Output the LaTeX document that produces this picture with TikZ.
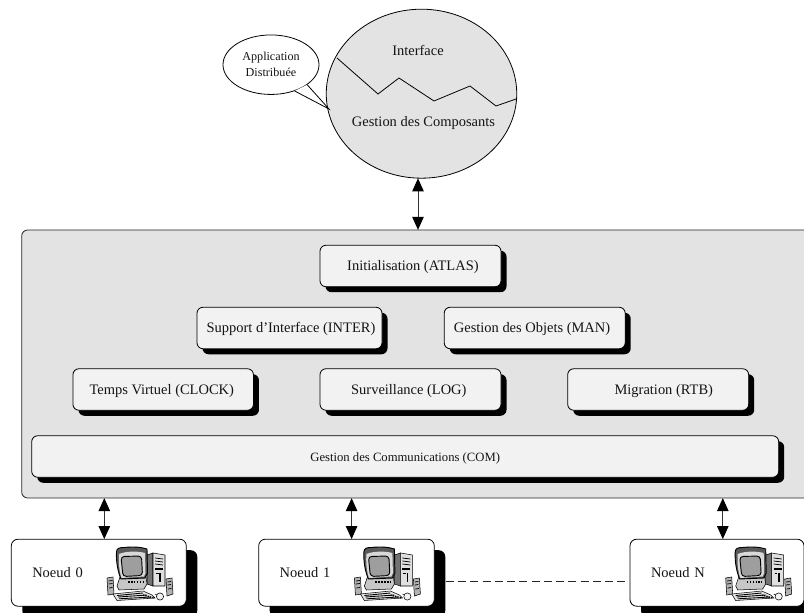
\documentclass[tikz,border=0pt]{standalone}
\usepackage{fontspec}
\setmainfont{Liberation Serif}
\usetikzlibrary{shapes.geometric,shadows,arrows.meta}
\def\px{0.75pt}
\definecolor{panelgray}{gray}{0.89}
\definecolor{boxgray}{gray}{0.95}
\tikzset{
  base/.style={font=\fontsize{10.85}{12.5}\selectfont,text=black!92},
  panelbox/.style={draw=black!85,line width=0.6pt,fill=panelgray,rounded corners=4.5pt,inner sep=0pt},
  modbox/.style={base,draw=black,line width=0.6pt,fill=boxgray,rounded corners=4.5pt,inner sep=0pt,minimum height=41.5*\px,
     text height=9pt,text depth=1.8pt,
     drop shadow={shadow xshift=5.5*\px,shadow yshift=-5.5*\px,fill=black,opacity=1}},
  noeud/.style={base,draw=black,line width=0.6pt,fill=white,rounded corners=5pt,inner xsep=21*\px,inner ysep=0pt,
     minimum height=67*\px,align=left,
     drop shadow={shadow xshift=11*\px,shadow yshift=-11*\px,fill=black,opacity=1}},
  biarrow/.style={line width=0.7pt,draw=black!80,{Triangle[length=13*\px,width=11.5*\px,black]}-{Triangle[length=13*\px,width=11.5*\px,black]},shorten <=-0.2pt,shorten >=-0.2pt},
  icon/.style={line width=0.4pt,draw=black},
  computer/.pic={
    % left speaker
    \filldraw[icon,fill=black!30] (7,38) -- (13,37) -- (14,54) -- (8,55) -- cycle;
    \draw[line width=0.55pt] (8.5,41) -- (12.5,40.5) (8.5,44) -- (12.5,43.5) (9,48) -- (12.5,47.5);
    % tower
    \filldraw[icon,fill=black!55] (47,15) -- (53,13) -- (53,46) -- (47,44) -- cycle;
    \filldraw[icon,fill=black!12] (53,13) -- (65,15) -- (65,46) -- (53,46) -- cycle;
    \draw[line width=0.55pt] (55,18) -- (63,19) (55,21) -- (63,22) (55,24) -- (63,25);
    \draw[line width=1.2pt] (55,29) -- (63,29);
    \draw[line width=1.3pt] (60,33) -- (60,42);
    \draw[line width=0.55pt] (56,33) -- (58.5,33);
    % right speaker
    \filldraw[icon,fill=black!30] (66,39) -- (72,38) -- (73,54) -- (67,56) -- cycle;
    \draw[line width=0.55pt] (67.5,42) -- (71,41.5) (67.5,45) -- (71,44.5) (68,49) -- (71.5,48.5);
    % base
    \filldraw[icon,fill=black!22] (20,37) -- (46,37) -- (47,44) -- (44,49) -- (19,50) -- (17,46) -- cycle;
    \draw[line width=0.9pt,dash pattern=on 1.2pt off 1pt] (28,42) -- (43,42);
    % monitor
    \filldraw[icon,line width=0.7pt,fill=black!65] (16.5,12) .. controls (16.5,8) and (20,7.5) .. (24,7.5)
       .. controls (33,6.5) and (41,7) .. (47,9) -- (47.5,33) -- (45,38) -- (21,39) .. controls (18,32) and (16,22) .. (16.5,12) -- cycle;
    \fill[black!15] (19,14) .. controls (26,11) and (38,11) .. (45,13) -- (45.5,33) -- (44,36.5) -- (21.5,38) .. controls (19,30) and (18.5,22) .. (19,14) -- cycle;
    \filldraw[icon,line width=0.7pt,fill=black!38,rounded corners=2.5pt] (21,16.5) -- (41.5,16) -- (42.5,35.5) -- (23,36.5) -- cycle;
    % keyboard
    \filldraw[icon,fill=black!10] (13,54) -- (43,51) -- (52,55) -- (55,58) -- (17,60.5) -- cycle;
    \draw[line width=0.65pt] (17,55.5) -- (43,53) (18,57) -- (47,55) (19,58.8) -- (51,57);
    \draw[line width=1pt,dash pattern=on 1pt off 0.8pt] (43,55) -- (54,58);
    % mouse
    \filldraw[icon,fill=black!5] (60,56.5) circle[radius=3.6];
    \draw[line width=0.4pt] (55,54) -- (57,55);
  }
}
\begin{document}
\begin{tikzpicture}[x=0.75pt,y=-0.75pt]
\useasboundingbox (0,0) rectangle (804,613);
\clip (0,0) rectangle (804,613);

% top sphere
\node[draw=black,line width=0.6pt,fill=panelgray,ellipse,inner sep=0pt,minimum width=190.5*\px,minimum height=169*\px] (sphere) at (421.5,93.7) {};
\draw[line width=0.6pt,black] (337,58) -- (378,94) -- (399,78) -- (434,101) -- (470,86) -- (496,106) -- (sphere.-3);
\node[base] (iface) at (418,50.5) {Interface};
\node[base] (gcomp) at (423.5,123) {Gestion des Composants};

% callout
\node[draw=black,line width=0.6pt,fill=white,ellipse,inner sep=0pt,minimum width=96*\px,minimum height=59.5*\px,
      align=center,font=\fontsize{9.1}{12.5}\selectfont,text=black!92] (bubble) at (271,64.7) {\raisebox{0.75pt}{Application}\\\raisebox{0.75pt}{Distribuée}};
\coordinate (tip) at (329,109);
\fill[white] (bubble.-48) -- (tip) -- (bubble.-29) -- cycle;
\draw[line width=0.6pt,black] (bubble.-48) -- (tip) -- (bubble.-29);

% middleware panel
\node[panelbox,minimum width=830*\px,minimum height=268*\px] (panel) at (436.7,364) {};

\node[modbox,minimum width=181*\px] (atlas) at (410.5,266) {\kern3.6pt Initialisation (ATLAS)};
\node[modbox,minimum width=185*\px] (inter) at (289.5,328) {\kern2.2pt Support d’Interface (INTER)};
\node[modbox,minimum width=181*\px] (man) at (534.7,328) {\kern-4pt Gestion des Objets (MAN)};
\node[modbox,minimum width=180.5*\px] (clock) at (163.2,389.5) {\kern-2.2pt Temps Virtuel (CLOCK)};
\node[modbox,minimum width=181*\px] (logm) at (410.5,389.5) {\kern-2.5pt Surveillance (LOG)};
\node[modbox,minimum width=181*\px] (rtb) at (658.2,389.5) {\kern8.4pt Migration (RTB)};
\node[modbox,minimum width=747*\px] (com) at (405.2,456.5) {\fontsize{9.5}{12}\selectfont Gestion des Communications (COM)};

% machines
\node[noeud,text width=133*\px] (n0) at (98.8,572.7) {Noeud 0};
\node[noeud,text width=133.6*\px] (n1) at (346.5,572.7) {Noeud 1};
\node[noeud,text width=132*\px] (nN) at (717,572.7) {Noeud N};
\pic at (100,540) {computer};
\pic at (347.4,540) {computer};
\pic at (718.7,540) {computer};

% connectors
\coordinate (a) at (418,0);
\coordinate (a0) at (104.3,0);
\coordinate (a1) at (351.6,0);
\coordinate (aN) at (722.8,0);
\draw[biarrow] (sphere.south -| a) -- (panel.north -| a);
\draw[biarrow] (panel.south -| a0) -- (n0.north -| a0);
\draw[biarrow] (panel.south -| a1) -- (n1.north -| a1);
\draw[biarrow] (panel.south -| aN) -- (nN.north -| aN);
\coordinate (dy) at (0,581);
\draw[line width=0.5pt,black!85,dash pattern=on 6pt off 3.2pt] (n1.east |- dy) ++(11,0) -- (nN.west |- dy);
\end{tikzpicture}
\end{document}
